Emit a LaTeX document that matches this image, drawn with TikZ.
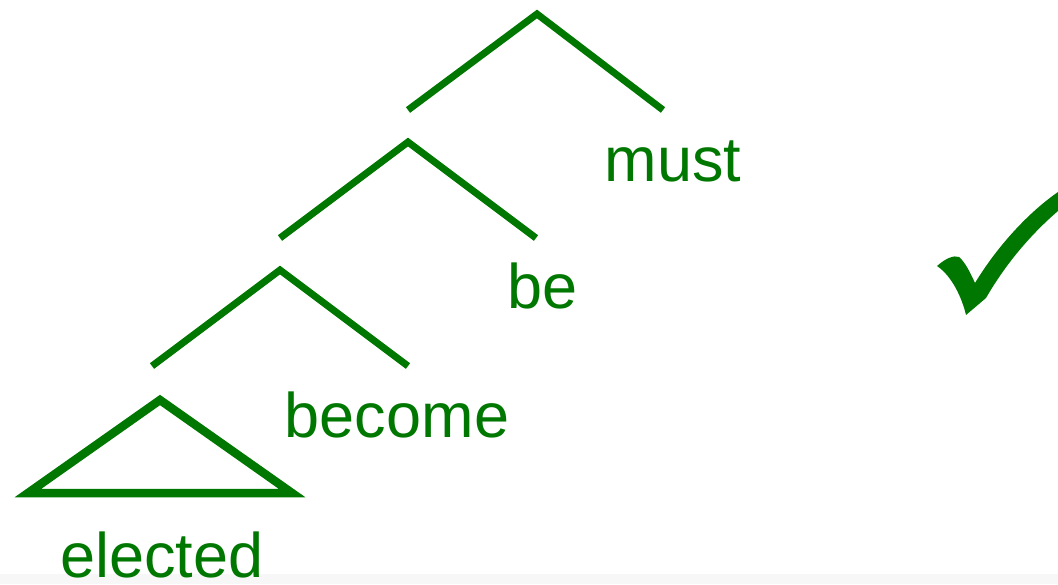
\documentclass[tikz,border=0pt]{standalone}
\usepackage{fontspec}
\setmainfont{Liberation Sans}
\definecolor{tgreen}{RGB}{0,119,0}
\begin{document}
\begin{tikzpicture}[x=1pt,y=-1pt,
  branch/.style={draw=tgreen,line width=7pt},
  word/.style={text=tgreen,font=\fontsize{63}{63}\selectfont,inner sep=0pt,anchor=base}]
\useasboundingbox (0,0) rectangle (1058,584);
\fill[black!3] (0,574) rectangle (1058,584);
% tree coordinates
\coordinate (a1) at (537,14); \coordinate (l1) at (408,110); \coordinate (r1) at (663,110);
\coordinate (a2) at (408,142); \coordinate (l2) at (280,238); \coordinate (r2) at (536,238);
\coordinate (a3) at (280,270); \coordinate (l3) at (152,366); \coordinate (r3) at (408,366);
\coordinate (t1) at (160,400); \coordinate (t2) at (292,493); \coordinate (t3) at (28,493);
\draw[branch] (l1) -- (a1) -- (r1);
\draw[branch] (l2) -- (a2) -- (r2);
\draw[branch] (l3) -- (a3) -- (r3);
\draw[branch,line width=8.5pt,miter limit=10] (t1) -- (t2) -- (t3) -- cycle;
% words
\node[word] (must) at (673,181) {must};
\node[word] (be) at (543,308) {be};
\node[word] (become) at (397,437) {become};
\node[word] (elected) at (162,577) {elected};
% check mark
\fill[tgreen] (937,266) .. controls (946,258) and (954,255) .. (959,257)
  .. controls (965,262) and (970,272) .. (975,283)
  .. controls (995,250) and (1025,215) .. (1058,192)
  -- (1058,211)
  .. controls (1030,235) and (1005,265) .. (986,298)
  -- (966,315)
  .. controls (962,298) and (952,276) .. (937,266) -- cycle;
\end{tikzpicture}
\end{document}
